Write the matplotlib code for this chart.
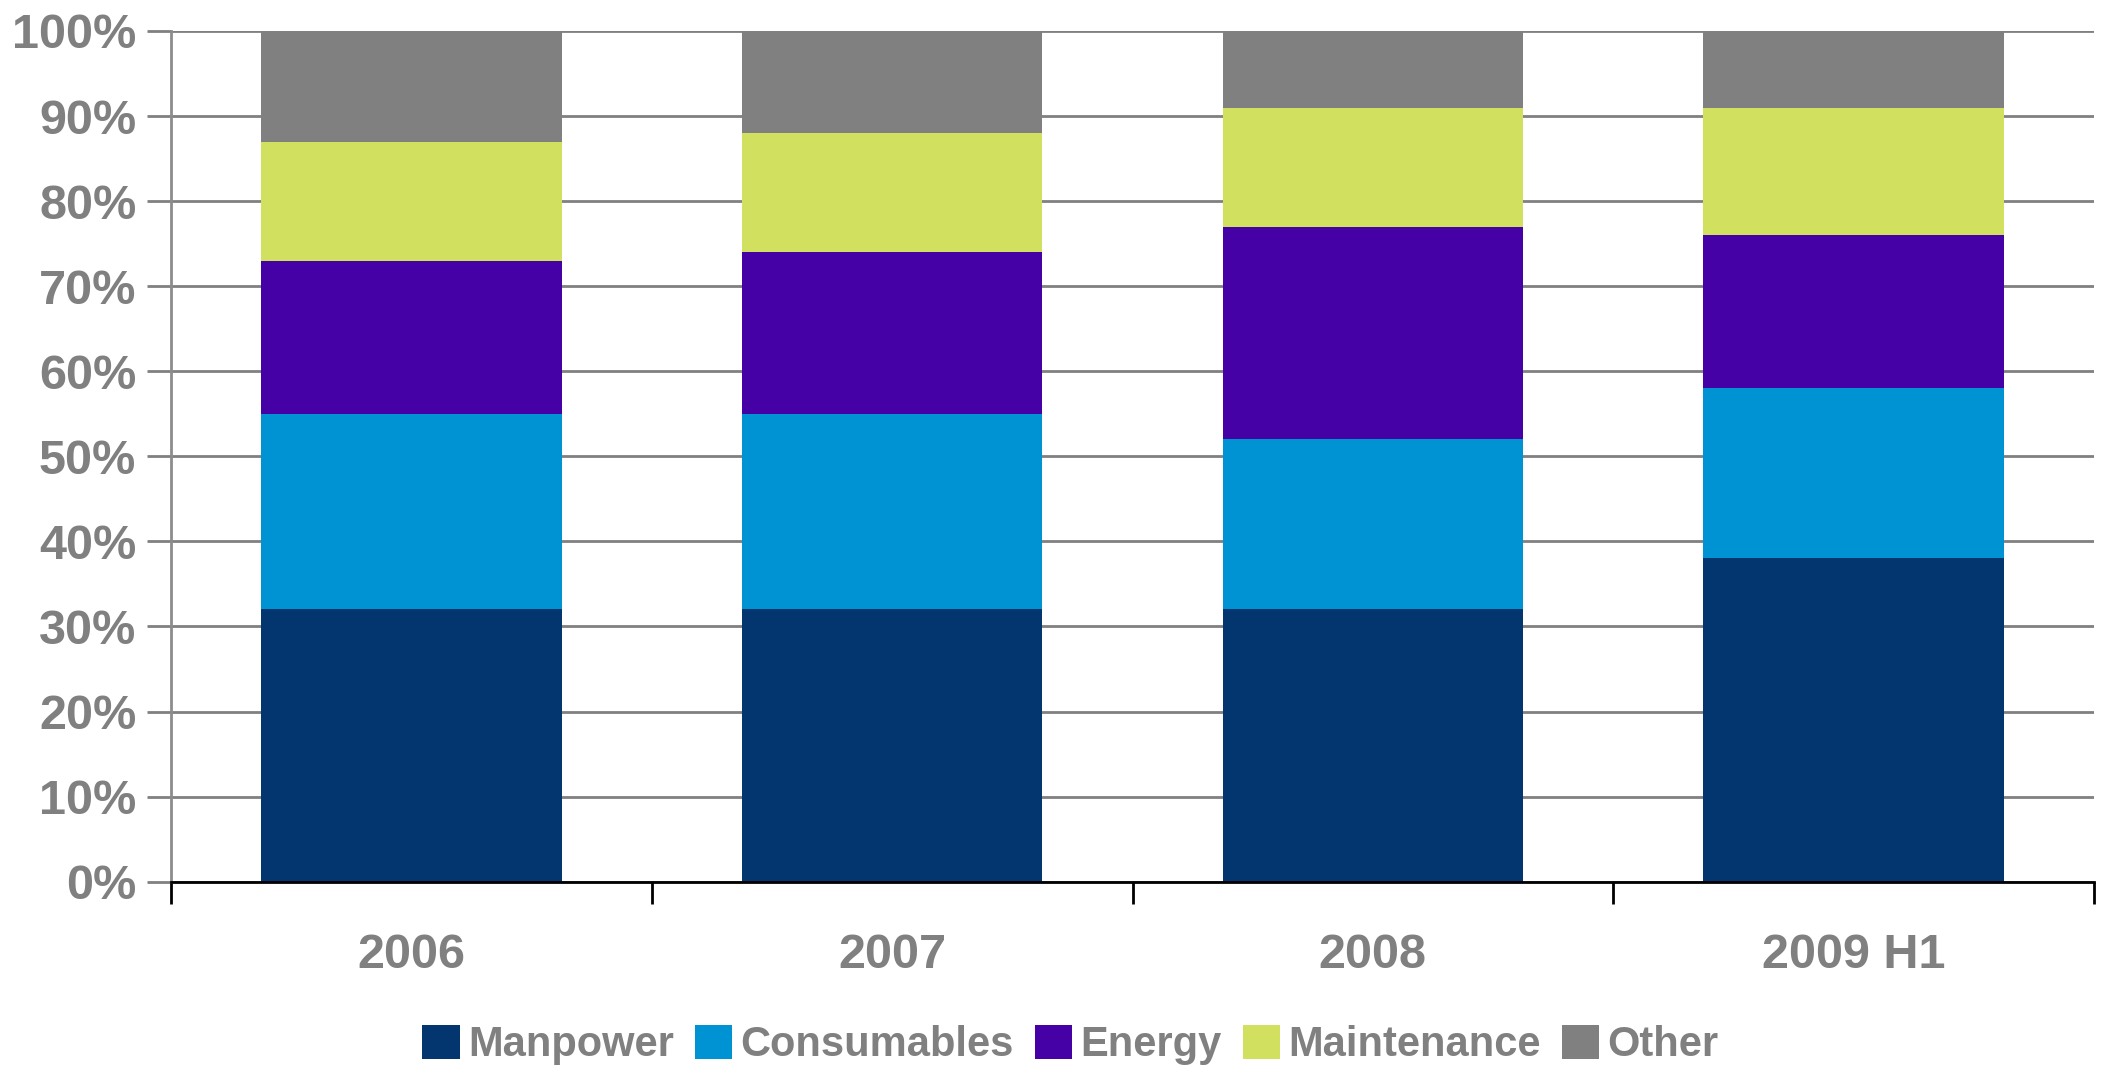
import numpy as np
import matplotlib
matplotlib.use("Agg")
import matplotlib.pyplot as plt
from matplotlib.ticker import FixedLocator, NullFormatter, PercentFormatter

# Cost structure by year, share of total (%)
periods = ["2006", "2007", "2008", "2009 H1"]
manpower = [32, 32, 32, 38]
consumables = [23, 23, 20, 20]
energy = [18, 19, 25, 18]
maintenance = [14, 14, 14, 15]
other = [13, 12, 9, 9]

series_names = ["Manpower", "Consumables", "Energy", "Maintenance", "Other"]
series_values = [manpower, consumables, energy, maintenance, other]
series_colors = ["#03366F", "#0093D3", "#4500A6", "#D2E060", "#808080"]

plt.rcParams["font.family"] = ["Liberation Sans", "DejaVu Sans"]
label_grey = "#808080"

fig = plt.figure(figsize=(21.03, 10.68), dpi=100)
ax = fig.add_axes([171 / 2103, 1 - 881.7 / 1068, (2094 - 171) / 2103, (881.7 - 31) / 1068])

x = np.arange(len(periods))
bottom = np.zeros(len(periods))
for name, vals, color in zip(series_names, series_values, series_colors):
    vals = np.array(vals, dtype=float)
    ax.bar(x, vals, width=0.625, bottom=bottom, color=color, label=name,
           linewidth=0, zorder=3)
    bottom += vals

ax.set_xlim(-0.5, len(periods) - 0.5)
ax.set_ylim(0, 100)
ax.set_yticks(np.arange(0, 101, 10))
ax.yaxis.set_major_formatter(PercentFormatter(decimals=0))
ax.grid(axis="y", color="#808080", linewidth=2.0, zorder=0)
ax.set_axisbelow(True)

# tick marks sit on the category boundaries; names go in the middle
ax.xaxis.set_major_locator(FixedLocator(np.arange(-0.5, len(periods), 1.0)))
ax.xaxis.set_major_formatter(NullFormatter())
ax.tick_params(axis="x", which="major", direction="out", length=16, width=2, color="black")
for xi, name in zip(x, periods):
    ax.text(xi, -0.087, name, transform=ax.get_xaxis_transform(),
            ha="center", va="center", fontsize=35, fontweight="bold",
            color=label_grey)

ax.tick_params(axis="y", direction="out", length=17, width=2.0, color="#808080",
               pad=8, labelsize=35, labelcolor=label_grey)
for lab in ax.get_yticklabels():
    lab.set_fontweight("bold")

for side in ["top", "right"]:
    ax.spines[side].set_visible(False)
ax.spines["left"].set_color("#8C8C8C")
ax.spines["left"].set_linewidth(2.0)
ax.spines["bottom"].set_color("black")
ax.spines["bottom"].set_linewidth(2)
ax.spines["bottom"].set_zorder(4)

leg = fig.legend(loc="center", bbox_to_anchor=(0.509, 1 - 1045 / 1068), ncol=5,
                 frameon=False, handlelength=0.9, handleheight=0.9,
                 handletextpad=0.2, columnspacing=0.5,
                 prop={"size": 30, "weight": "bold"})
for t in leg.get_texts():
    t.set_color(label_grey)

fig.savefig("out.png", dpi=100)
